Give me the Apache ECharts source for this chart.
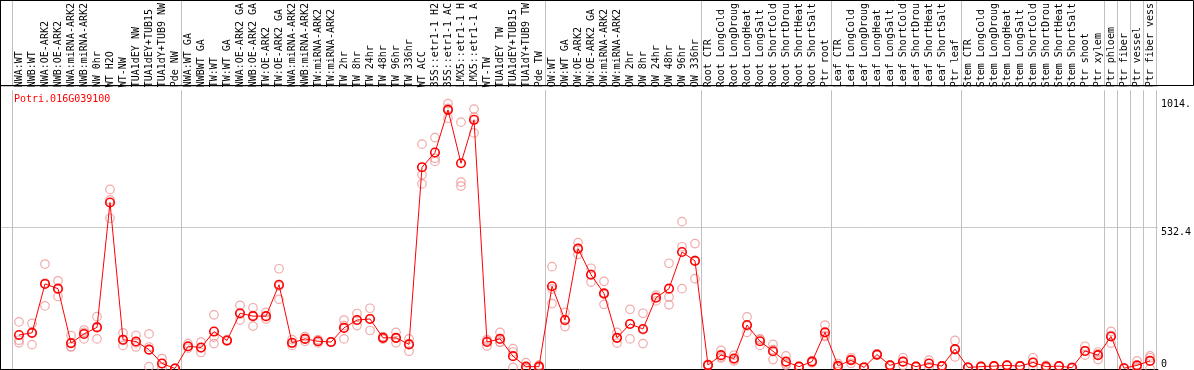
<!DOCTYPE html>
<html><head><meta charset="utf-8">
<script src="https://cdn.jsdelivr.net/npm/echarts@6/dist/echarts.min.js"></script>
<style>html,body{margin:0;padding:0;background:#fff}#c{width:1194px;height:370px}</style>
</head><body><div id="c"></div>
<script>
const geneId = 'Potri.016G039100';

const categories = [
'NWA:WT','NWB:WT','NWA:OE-ARK2','NWB:OE-ARK2','NWA:miRNA-ARK2','NWB:miRNA-ARK2','NW 0hr','WT H2O','WT-NW','TUA1dEY NW','TUA1dEY+TUB15','TUA1dY+TUB9 NW','Pde NW',
'NWA:WT GA','NWBWT GA','TW:WT','TW:WT GA','NWA:OE-ARK2 GA','NWB:OE-ARK2 GA','TW:OE-ARK2','TW:OE-ARK2 GA','NWA:miRNA-ARK2','NWB:miRNA-ARK2','TW:miRNA-ARK2','TW:miRNA-ARK2','TW 2hr','TW 8hr','TW 24hr','TW 48hr','TW 96hr','TW 336hr','WT ACC','35S::etr1-1 H2','35S::etr1-1 AC','LMX5::etr1-1 H','LMX5::etr1-1 A','WT-TW','TUA1dEY TW','TUA1dEY+TUB15','TUA1dY+TUB9 TW','Pde TW',
'OW:WT','OW:WT GA','OW:OE-ARK2','OW:OE-ARK2 GA','OW:miRNA-ARK2','OW:miRNA-ARK2','OW 2hr','OW 8hr','OW 24hr','OW 48hr','OW 96hr','OW 336hr',
'Root CTR','Root LongCold','Root LongDroug','Root LongHeat','Root LongSalt','Root ShortCold','Root ShortDrou','Root ShortHeat','Root ShortSalt','Ptr root',
'Leaf CTR','Leaf LongCold','Leaf LongDroug','Leaf LongHeat','Leaf LongSalt','Leaf ShortCold','Leaf ShortDrou','Leaf ShortHeat','Leaf ShortSalt','Ptr leaf',
'Stem CTR','Stem LongCold','Stem LongDroug','Stem LongHeat','Stem LongSalt','Stem ShortCold','Stem ShortDrou','Stem ShortHeat','Stem ShortSalt','Ptr shoot','Ptr xylem',
'Ptr phloem','Ptr fiber','Ptr vessel','Ptr fiber vess'];

// index of the first category of each sample group
const groupStarts = [0, 13, 41, 53, 63, 73, 84, 85, 86, 87];

const meanValues = [
130,138,325,307,99,134,159,636,112,105,74,21,2,
87,82,143,109,213,202,202,322,100,115,106,103,157,187,191,119,119,94,771,827,990,786,952,103,115,49,9,9,
316,187,460,360,289,119,172,153,272,307,447,413,
15,53,40,168,106,68,28,9,28,140,
12,34,6,55,14,28,9,21,11,76,
6,9,11,14,11,25,9,11,5,69,53,
124,3,14,31];

const rep1 = [
180,174,401,337,128,149,200,686,138,128,134,40,3,
97,103,207,112,243,234,216,383,112,124,112,104,187,212,232,124,140,115,859,884,1014.1,943,993,112,140,78,24,15,
391,216,483,385,335,140,228,213,282,404,563,479,
18,71,53,199,115,94,50,10,32,168,
21,43,8,58,16,43,10,34,12,109,
7,10,12,15,12,43,14,12,6,87,65,
144,4,31,50];

const rep2 = [
110,140,328,305,86,140,162,646,109,100,84,20,1,
85,80,122,108,210,205,200,317,98,115,106,103,166,187,192,119,118,97,742,805,996,714,962,108,103,65,3,8,
305,185,460,362,285,119,172,150,274,275,467,415,
15,46,36,165,113,74,20,9,28,128,
10,37,6,55,14,28,9,21,11,74,
6,9,11,14,11,24,9,11,5,68,58,
128,3,8,43];

const rep3 = [
100,93,241,277,84,115,115,576,90,84,9,5,2,
80,63,97,107,187,164,191,266,90,106,100,102,115,166,147,114,100,68,707,793,958,699,902,88,103,6,1,4,
250,162,438,332,247,99,115,97,260,245,307,345,
12,42,31,140,90,36,15,8,24,124,
6,22,4,52,12,14,8,9,10,46,
5,8,10,13,10,9,4,10,4,53,36,
99,2,4,0];

const maxVal = Math.max(...rep1, ...rep2, ...rep3, ...meanValues);
const yMax = maxVal * 1.05;

const mono = 'DejaVu Sans Mono';
const isGroupStart = (idx) => groupStarts.indexOf(idx) >= 0;

const repStyle = {color: 'rgba(0,0,0,0)', borderColor: '#ec9494', borderWidth: 1.2};
function repSeries(arr) {
  return {type: 'scatter', xAxisIndex: 0, yAxisIndex: 0, data: arr.map((v, i) => [i, v]),
    symbol: 'circle', symbolSize: 8.5, itemStyle: repStyle, silent: true, z: 2};
}

const chart = echarts.init(document.getElementById('c'), null, {renderer: 'canvas'});
chart.setOption({
  animation: false,
  backgroundColor: '#fff',
  title: {text: geneId, left: 9, top: 89,
    textStyle: {color: '#ff0000', fontSize: 10, fontFamily: mono, fontWeight: 'normal'}},
  grid: [
    {left: 12.5, width: 1144, top: 86, bottom: 1},
    {left: 1, right: 34, top: 86, bottom: 1},
    {left: 12.5, width: 1144, top: 0, height: 85}
  ],
  xAxis: [
    {type: 'category', gridIndex: 0, data: categories, position: 'top',
      axisLine: {show: false}, axisTick: {show: false},
      axisLabel: {interval: 0, rotate: 90, margin: 3, fontFamily: mono, fontSize: 10, color: '#000'},
      splitLine: {show: true, interval: (i) => isGroupStart(i), lineStyle: {color: '#c0c0c0', width: 1}}},
    {type: 'value', gridIndex: 1, min: 0, max: 1, position: 'bottom',
      axisLine: {show: true, lineStyle: {color: '#000', width: 1}}, axisTick: {show: false},
      axisLabel: {show: false}, splitLine: {show: false}},
    {type: 'category', gridIndex: 2, data: categories, position: 'bottom',
      axisLine: {show: false}, axisTick: {show: false}, axisLabel: {show: false},
      splitLine: {show: true, interval: (i) => isGroupStart(i), lineStyle: {color: '#c0c0c0', width: 1}}}
  ],
  yAxis: [
    {type: 'value', gridIndex: 0, min: 0, max: yMax, show: false},
    {type: 'value', gridIndex: 1, min: 0, max: yMax, interval: yMax / 2, position: 'right',
      axisLine: {show: false}, axisTick: {show: false},
      splitLine: {show: true, lineStyle: {color: '#c8c8c8', width: 1}},
      axisLabel: {customValues: [yMax / 2, maxVal], margin: 3, verticalAlign: 'top',
        fontFamily: mono, fontSize: 10, color: '#000',
        formatter: (v) => String(v).slice(0, 5)}},
    {type: 'value', gridIndex: 1, min: 0, max: yMax, position: 'right',
      axisLine: {show: false}, axisTick: {show: false}, splitLine: {show: false},
      axisLabel: {customValues: [0], margin: 3, verticalAlign: 'bottom',
        fontFamily: mono, fontSize: 10, color: '#000', formatter: () => '0'}},
    {type: 'value', gridIndex: 2, min: 0, max: 1, show: false}
  ],
  graphic: [
    {type: 'rect', shape: {x: 0.5, y: 0.5, width: 1193, height: 85},
      style: {fill: 'none', stroke: '#000', lineWidth: 1}, z: 10, silent: true},
    {type: 'line', shape: {x1: 0.5, y1: 0, x2: 0.5, y2: 370},
      style: {stroke: '#000', lineWidth: 1}, z: 10, silent: true}
  ],
  series: [
    repSeries(rep1), repSeries(rep2), repSeries(rep3),
    {type: 'line', xAxisIndex: 0, yAxisIndex: 0, data: meanValues, symbol: 'circle', symbolSize: 8.5,
      showAllSymbol: true, lineStyle: {color: '#ff0000', width: 1},
      itemStyle: {color: 'rgba(0,0,0,0)', borderColor: '#ff0000', borderWidth: 1.6}, z: 3, silent: true}
  ]
});
</script>
</body></html>
